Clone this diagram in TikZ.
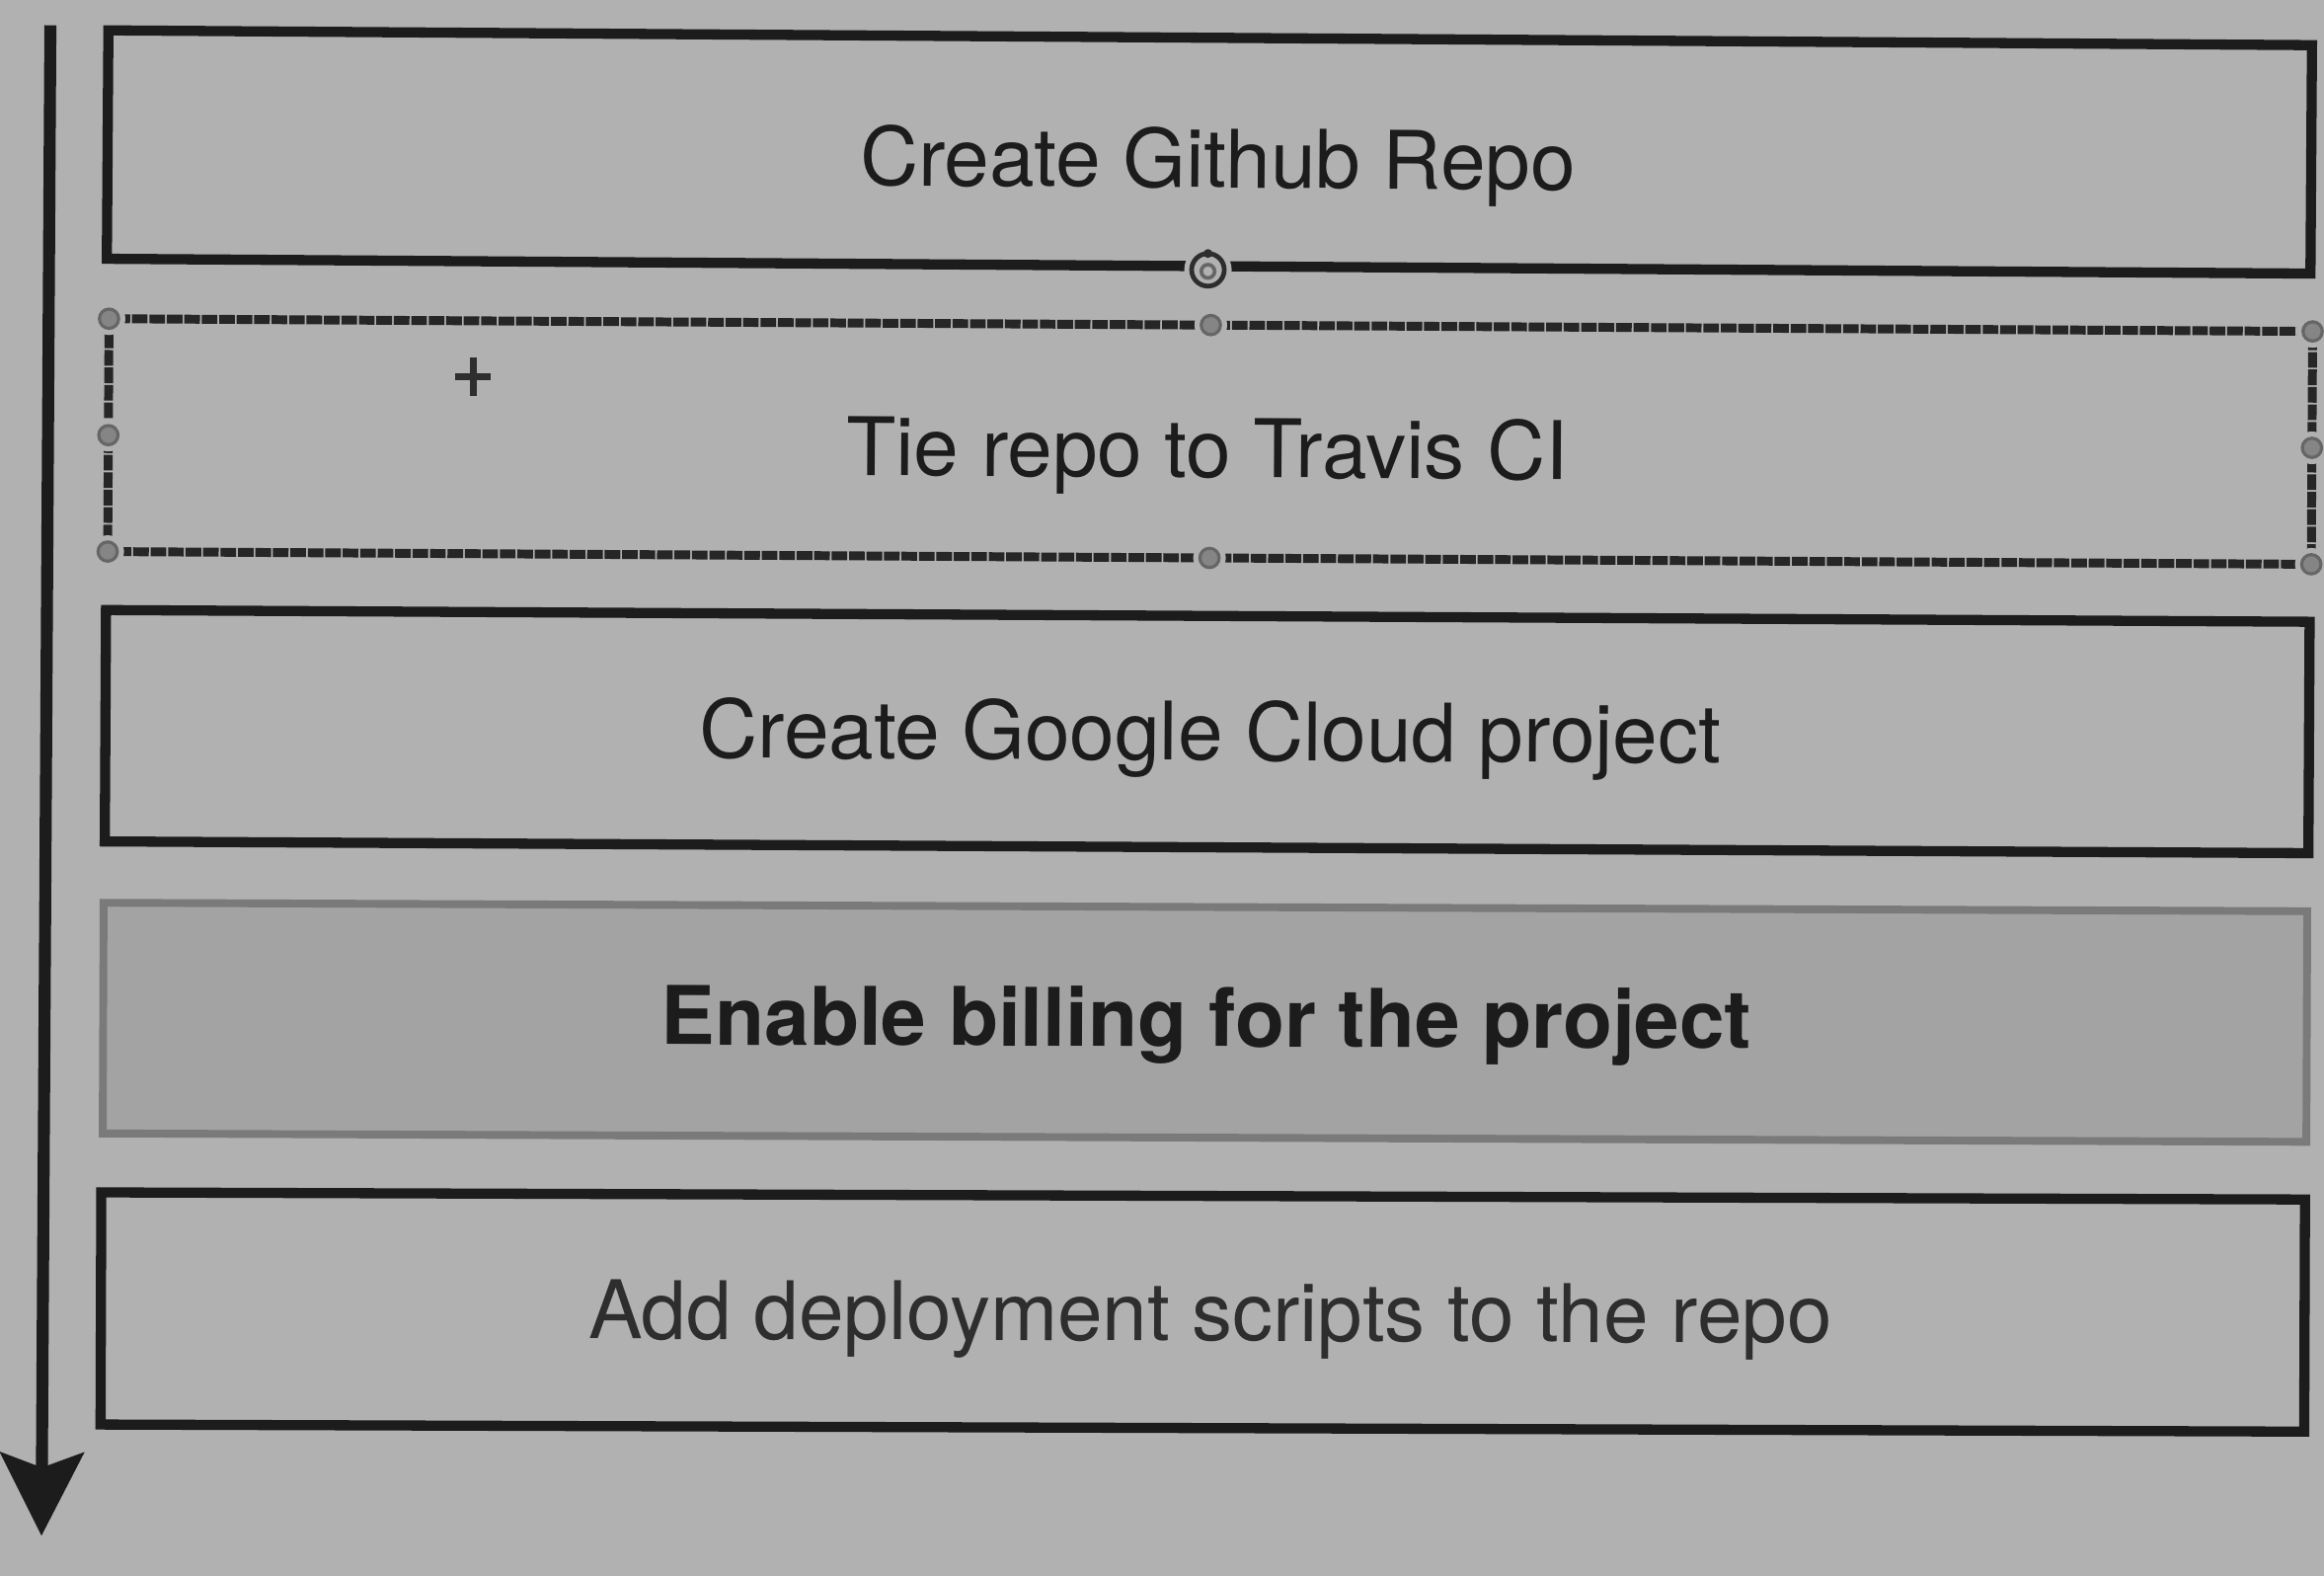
\documentclass[tikz,border=0pt]{standalone}
\usepackage{fontspec}
\setmainfont{TeX Gyre Heros}
\usetikzlibrary{arrows.meta}
\definecolor{bg}{HTML}{B1B1B1}
\definecolor{ink}{HTML}{1C1C1C}
\definecolor{softink}{HTML}{2E2E2E}
\definecolor{selink}{HTML}{262626}
\definecolor{billfill}{HTML}{A3A3A3}
\definecolor{billedge}{HTML}{7A7A7A}
\definecolor{gripfill}{HTML}{858585}
\definecolor{gripedge}{HTML}{666666}
\begin{document}
\begin{tikzpicture}[x=0.01cm,y=-0.01cm,
  font=\fontsize{15.5}{18}\selectfont,
  stepbox/.style={draw=ink, line width=1.95pt, fill=bg, minimum width=14.86cm,
    inner sep=0pt, outer sep=0pt},
  selbox/.style={stepbox, draw=selink, line width=1.7pt, dash pattern=on 3pt off 0.35pt},
  billbox/.style={stepbox, draw=billedge, line width=1.5pt, fill=billfill},
  lbl/.style={anchor=base, inner sep=0pt, text=ink},
  halo/.style={circle, fill=bg, inner sep=0pt, minimum size=0.22cm},
  grip/.style={circle, fill=gripfill, draw=gripedge, line width=0.6pt, inner sep=0pt,
    minimum size=0.13cm},
  flow/.style={draw=ink, line width=2.3pt,
    -{Stealth[length=0.56cm, width=0.56cm, inset=0.1cm]}},
]
\fill[bg] (0,0) rectangle (1568,1063);
\useasboundingbox (0,0) rectangle (1568,1063);

% steps
\node[stepbox, minimum height=1.54cm, rotate=-0.385] (b1) at (816,102.5) {};
\node[selbox, minimum height=1.57cm, rotate=-0.33] (b2) at (816.5,297.8) {};
\node[stepbox, minimum height=1.56cm, rotate=-0.305] (b3) at (814.5,493.5) {};
\node[billbox, minimum height=1.555cm, rotate=-0.22] (b4) at (813,689.6) {};
\node[stepbox, minimum height=1.565cm, rotate=-0.185] (b5) at (811.5,885) {};

% selection handles of the second step
\foreach \a in {north west,north,north east,west,east,south west,south,south east}{
  \node[halo] at (b2.\a) {};
}
\foreach \a in {north west,north,north east,west,east,south west,south,south east}{
  \node[grip] at (b2.\a) {};
}
% rotation handle
\node[circle, fill=bg, inner sep=0pt, minimum size=0.32cm] (rothalo) at (815,182) {};
\node[circle, draw=softink, line width=0.9pt, fill=bg, inner sep=0pt,
      minimum size=0.22cm] (rothandle) at (815,182) {};
\node[circle, draw=gripedge, line width=0.7pt, inner sep=0pt, minimum size=0.09cm]
      (rotinner) at (815,183) {};
\node[circle, fill=softink, inner sep=0pt, minimum size=0.06cm] (rotdot) at (815,171) {};

% move cursor
\coordinate (cxl) at (307,254);
\coordinate (cxr) at (331,254);
\coordinate (cyt) at (319.5,241);
\coordinate (cyb) at (319.5,267);
\draw[softink, line width=1.2pt] (cxl) -- (cxr);
\draw[softink, line width=1.2pt] (cyt) -- (cyb);

% labels
\node[lbl, rotate=-0.385] (t1) at (821.5,126.6) {Create Github Repo};
\node[lbl, rotate=-0.33] (t2) at (814.5,322) {Tie repo to Travis CI};
\node[lbl, rotate=-0.305] (t3) at (816.5,513) {Create Google Cloud project};
\node[lbl, rotate=-0.22] (t4) at (814,706) {\bfseries Enable billing for the project};
\node[lbl, rotate=-0.185, text=softink] (t5) at (816.5,904.5) {Add deployment scripts to the repo};

% time arrow
\coordinate (atop) at (34,17);
\coordinate (abot) at (28,1036);
\draw[flow] (atop) -- (abot);
\end{tikzpicture}
\end{document}
